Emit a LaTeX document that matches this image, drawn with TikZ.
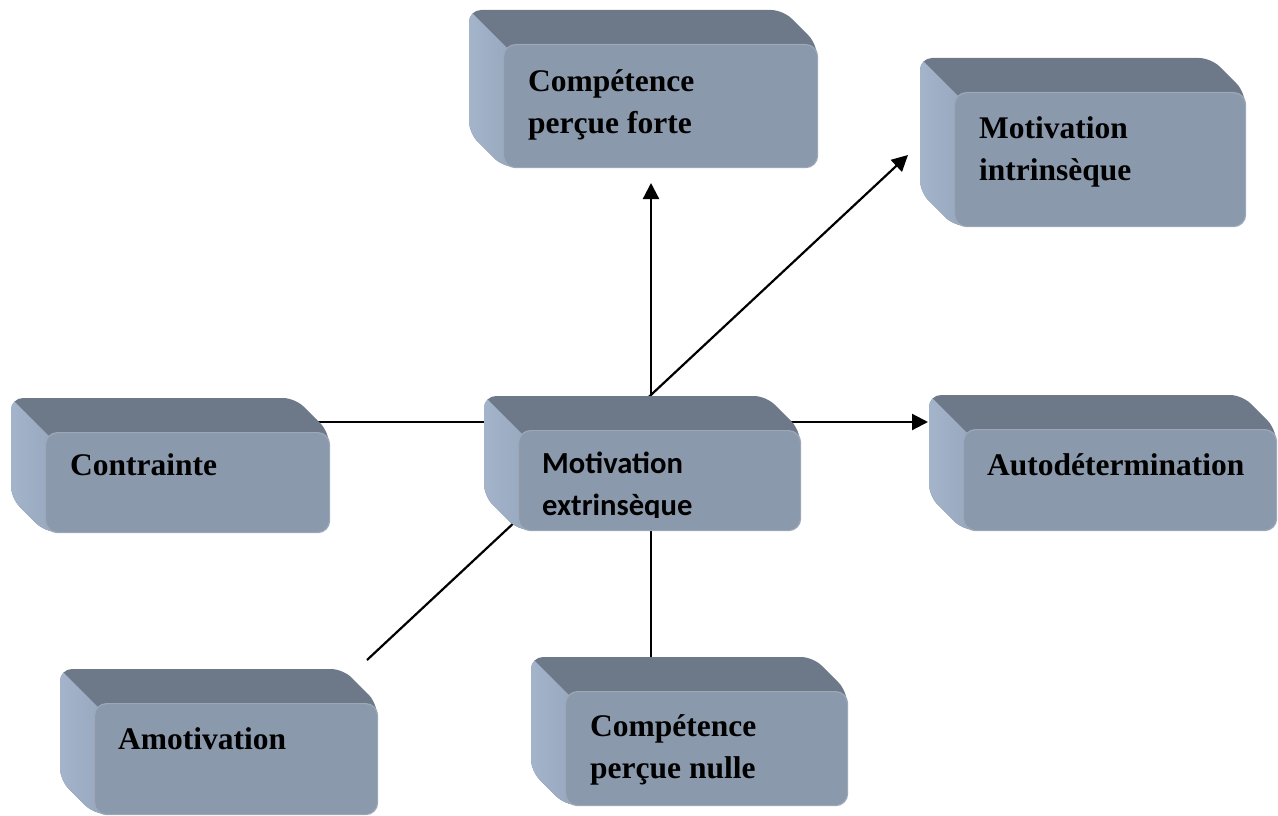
\documentclass[tikz,border=0pt]{standalone}
\usepackage{fontspec}
\setmainfont{Liberation Serif}
\newfontfamily\calibfont{Carlito}
\usetikzlibrary{arrows.meta}
\definecolor{topc}{HTML}{6D7989}
\definecolor{frontc}{HTML}{8B99AC}
\definecolor{leftc}{HTML}{A4B5CC}
\definecolor{leftd}{HTML}{97A7BD}
\definecolor{edgec}{HTML}{9CA8B8}
\def\dd{34}
\newcommand{\silpath}[4]{({#1-\dd},{#2-\dd}) -- ({#3-\dd},{#2-\dd}) -- (#3,#2) -- (#3,#4) -- (#1,#4) -- ({#1-\dd},{#4-\dd}) -- cycle}
\newcommand{\bevelbox}[5]{%
  \fill[topc, rounded corners=12pt] \silpath{#2}{#3}{#4}{#5};
  \begin{scope}
    \clip[rounded corners=12pt] \silpath{#2}{#3}{#4}{#5};
    \shade[left color=leftc, right color=leftd] ({#2-\dd-4},{#3-\dd-4}) -- ({#2+12},{#3+12}) -- ({#2+12},{#5+4}) -- ({#2-\dd-4},{#5+4}) -- cycle;
  \end{scope}
  \node[frontface, minimum width={(#4-#2)*1pt}, minimum height={(#5-#3)*1pt}, anchor=north west] (#1) at (#2,#3) {};
}
\tikzset{
  frontface/.style={draw=edgec, line width=1.2pt, fill=frontc, rounded corners=12pt, inner sep=0pt},
  lbl/.style={font=\fontsize{31.5}{42}\selectfont\bfseries, anchor=base west, inner sep=0pt, align=left, text=black},
  lblc/.style={font=\calibfont\fontsize{30.6}{42}\selectfont\bfseries, anchor=base west, inner sep=0pt, align=left, text=black},
  conn/.style={line width=2.2pt, black},
  arr/.style={conn, -{Triangle[length=16pt,width=16pt]}}
}
\begin{document}
\begin{tikzpicture}[x=1pt, y=-1pt]
\useasboundingbox[fill=white] (0,0) rectangle (1278,816);
% free ends of the connectors
\coordinate (hL) at (300,422);
\coordinate (hR) at (928,422);
\coordinate (vB) at (651,670);
\coordinate (vT) at (651,183);
\coordinate (dB) at (367,660);
\coordinate (dT) at (908,155);
\draw[arr] (hL) -- (hR);
\draw[arr] (vB) -- (vT);
\draw[arr] (dB) -- (dT);
% boxes
\bevelbox{cpf}{503}{44}{817}{167}
\bevelbox{mi}{954}{92}{1245}{226}
\bevelbox{ctr}{45}{432}{329}{532}
\bevelbox{me}{518}{430}{800}{530}
\bevelbox{aut}{963}{429}{1276}{530}
\bevelbox{amo}{94}{703}{377}{814}
\bevelbox{cpn}{565}{691}{847}{805}
% labels (base anchor = baseline of the last line)
\node[lbl] (cpf-t) at (528,133) {Compétence\\perçue forte};
\node[lbl] (mi-t) at (979,180) {Motivation\\intrinsèque};
\node[lbl] (ctr-t) at (70,475) {Contrainte};
\node[lbl] (aut-t) at (987,475) {Autodétermination};
\node[lbl] (amo-t) at (118,749) {Amotivation};
\node[lbl] (cpn-t) at (590,778) {Compétence\\perçue nulle};
\begin{scope}
  \clip (518,430) rectangle (800,517);
  \node[lblc] (me-t) at (542,515) {Motivation\\extrinsèque};
\end{scope}
\end{tikzpicture}
\end{document}
